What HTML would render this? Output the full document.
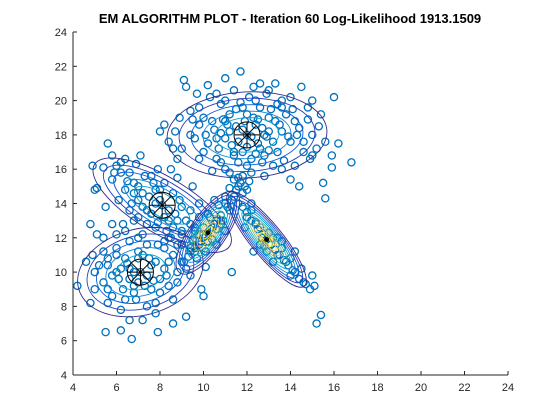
<!DOCTYPE html>
<html><head><meta charset="utf-8"><style>
html,body{margin:0;padding:0;background:#fff;}
svg{display:block;font-family:"Liberation Sans",sans-serif;}
</style></head><body>
<svg id="chart" width="560" height="420" viewBox="0 0 560 420" xmlns="http://www.w3.org/2000/svg">
<rect x="0" y="0" width="560" height="420" fill="#fff"/>
<text x="290" y="23" text-anchor="middle" font-size="13" font-weight="bold" fill="#000">EM ALGORITHM PLOT - Iteration 60 Log-Likelihood 1913.1509</text>
<g id="points"></g>
<g id="contours"></g>
<g id="markers"></g>
<g id="axes"></g>
</svg>
<script>
const xTicks=[4,6,8,10,12,14,16,18,20,22,24];
const yTicks=[4,6,8,10,12,14,16,18,20,22,24];
const ptsX=[12.0,11.5,12.5,13.0,11.0,12.3,11.8,13.5,10.5,12.8,11.2,14.0,10.2,12.6,11.6,13.8,10.8,14.4,9.8,12.1,13.2,11.0,14.6,10.0,12.9,11.4,13.6,9.6,15.0,10.6,12.2,14.2,15.2,9.4,13.4,11.9,12.7,11.3,12.4,13.1,10.9,14.8,10.3,11.7,12.0,13.9,11.1,12.9,10.7,13.3,14.1,15.3,15.6,15.9,15.5,15.6,16.0,16.8,15.4,9.1,9.2,11.7,12.6,13.3,14.5,15.0,10.2,9.7,8.9,8.7,9.0,9.8,10.4,11.6,12.8,14.0,14.4,15.9,16.2,8.2,8.0,8.4,8.6,8.8,11.0,14.9,12.3,13.7,10.1,9.5,11.8,12.5,13.0,11.4,14.3,12.2,10.8,13.6,11.5,12.7,
11.2,11.6,12.4,12.8,13.2,11.0,12.0,12.2,13.6,10.6,11.4,12.6,13.0,10.4,14.2,11.8,12.4,13.4,10.8,14.6,10.0,9.8,14.8,12.0,13.6,11.2,15.0,9.4,10.6,13.0,14.0,11.0,
8.1,7.5,8.7,7.0,9.2,6.5,9.6,7.8,8.4,7.2,8.9,6.8,9.4,6.2,10.0,7.6,8.6,6.0,5.8,7.3,9.0,8.2,7.0,10.4,6.4,5.4,5.1,5.0,5.6,6.9,7.9,8.8,9.8,10.2,6.6,7.4,8.3,8.0,7.7,6.1,5.5,7.1,9.5,10.8,8.5,6.3,5.8,4.9,
7.8,8.4,7.2,8.8,6.8,9.0,7.4,8.0,6.6,7.6,9.4,6.4,8.2,7.0,5.9,6.2,9.8,8.6,7.9,6.7,8.5,9.0,8.8,9.4,8.2,
7.1,6.5,7.7,6.8,7.5,6.0,8.2,7.0,6.3,8.0,5.6,8.6,6.6,7.9,5.4,8.8,6.9,7.4,6.0,9.0,5.2,8.4,7.2,5.8,9.4,6.4,4.9,5.0,8.6,9.6,7.8,6.2,5.4,4.6,4.2,5.6,5.5,6.2,6.7,7.9,9.2,9.9,10.1,9.8,5.1,4.8,7.3,6.6,7.6,7.0,6.1,8.3,5.8,10.0,4.8,6.8,7.2,8.6,
6.8,7.4,7.0,6.4,7.8,6.2,7.2,8.0,6.6,7.6,5.8,8.4,6.0,7.4,6.8,8.8,5.6,7.0,8.2,5.6,6.4,8.4,9.2,5.0,6.0,7.8,9.0,5.4,6.6,7.8,
10.2,9.9,10.5,9.6,10.8,9.3,11.1,10.0,10.4,9.8,10.6,11.3,9.1,10.9,9.5,11.0,11.5,11.7,11.4,11.8,11.2,10.7,11.9,12.1,11.6,10.3,9.7,10.1,9.0,11.0,11.3,10.5,
10.0,10.4,9.8,10.6,10.2,9.4,10.8,11.2,11.4,11.0,11.6,9.6,10.6,11.8,12.0,
12.9,12.5,13.3,12.2,13.7,12.0,14.1,12.7,13.1,13.0,12.8,14.4,11.8,13.5,12.4,13.9,14.7,14.9,15.1,14.5,13.2,12.6,13.4,14.0,11.9,15.4,15.2,15.0,12.3,13.6,14.2,12.2,
12.8,13.0,12.6,13.4,12.4,13.8,12.0,14.2,13.2,12.9,14.6,12.2,13.6,14.0];
const ptsY=[18.0,18.5,17.5,18.2,17.8,19.0,17.0,18.6,18.3,16.8,19.2,17.6,17.5,19.6,16.4,19.2,19.8,18.4,18.6,20.2,16.2,16.0,17.0,19.0,20.4,20.6,20.0,17.8,18.0,16.6,15.8,16.2,17.2,19.4,17.0,18.8,18.4,17.4,16.9,19.5,18.9,18.9,20.2,19.9,17.3,17.9,18.6,17.9,17.2,18.8,19.5,18.5,17.6,16.1,15.2,14.3,20.2,16.4,19.2,21.2,20.8,21.7,21.0,21.0,20.8,20.0,20.9,20.4,19.0,18.2,17.2,16.6,15.9,15.5,15.6,15.4,15.0,16.8,17.5,18.6,18.2,17.6,17.2,16.6,21.3,16.6,20.8,16.5,18.0,18.9,18.3,18.9,17.1,17.0,18.0,17.9,18.1,19.6,19.5,16.4,
18.2,17.6,18.6,18.0,17.6,18.8,19.2,16.6,18.2,17.8,16.8,17.2,19.0,18.8,18.8,19.6,20.0,19.8,16.4,17.6,17.0,19.6,19.6,16.2,16.0,15.8,16.8,18.0,20.4,20.6,20.2,20.0,
13.9,14.4,13.4,15.0,13.0,15.3,12.6,14.8,13.0,13.8,14.2,14.6,13.6,15.8,12.2,13.4,14.6,16.2,15.4,15.6,12.4,15.2,13.2,12.6,16.6,16.1,14.9,14.8,17.5,16.3,16.0,15.5,14.0,13.4,13.6,12.8,12.4,14.2,15.2,14.2,13.8,16.8,15.0,13.0,16.0,12.8,16.8,16.2,
14.0,13.6,14.6,13.0,15.2,13.8,13.6,14.8,15.8,15.6,12.8,14.8,13.2,14.2,15.8,16.4,13.2,12.6,12.9,14.0,12.0,12.2,11.6,11.4,11.8,
10.0,10.5,9.5,9.2,10.8,10.0,10.2,11.2,9.0,8.8,10.8,11.0,11.8,11.6,9.4,9.4,8.4,8.0,11.4,10.6,10.4,12.0,12.2,8.6,9.8,12.4,11.0,9.0,8.4,11.2,7.6,7.8,12.0,10.6,9.2,8.2,6.5,6.6,6.1,6.5,7.4,9.0,10.3,11.8,12.2,8.2,9.2,10.2,10.4,10.8,9.6,9.8,12.8,8.6,12.8,13.0,7.2,7.0,
10.0,9.8,9.4,10.8,10.6,10.2,11.0,9.6,9.6,9.0,9.8,10.6,11.0,11.6,8.8,10.0,10.4,12.0,11.4,9.0,8.4,9.2,10.2,10.0,12.2,12.6,11.6,11.2,7.2,8.2,
12.3,11.8,12.8,11.4,13.3,10.9,13.8,12.6,11.9,12.2,12.5,14.2,10.6,13.0,11.9,14.4,14.8,15.2,15.4,14.6,14.9,13.9,15.0,15.3,14.0,13.2,10.8,11.2,11.6,12.4,10.0,14.2,
12.0,12.6,11.6,13.0,11.8,11.2,12.8,13.6,14.4,14.0,15.0,12.4,11.6,15.6,14.8,
11.9,12.5,11.3,13.0,10.7,13.5,10.1,12.0,11.6,12.3,11.5,9.6,13.8,11.0,12.9,10.4,9.3,9.0,9.2,10.2,10.6,11.6,12.0,9.8,12.6,7.5,7.0,9.8,11.2,11.8,11.2,14.0,
12.2,11.6,12.6,11.0,12.8,10.6,13.2,10.0,12.0,11.2,9.4,13.6,11.4,10.8];
const meanX=[12.0,8.1,7.1,10.2,12.9];
const meanY=[18.0,13.9,10.0,12.3,11.9];
const peak=[0,0,0,1,1];

const X0=73,X1=508,Y0=375,Y1=32;
const sx=v=>X0+(v-4)*(X1-X0)/20;
const sy=v=>Y0-(v-4)*(Y0-Y1)/20;
const NS="http://www.w3.org/2000/svg";
function mk(t,a,p){const e=document.createElementNS(NS,t);for(const k in a)e.setAttribute(k,a[k]);p.appendChild(e);return e;}

const gp=document.getElementById('points');
for(let i=0;i<ptsX.length;i++){
 const c=mk('circle',{cx:sx(ptsX[i]),cy:sy(ptsY[i]),r:3.6,fill:'none',stroke:'#0072BD','stroke-width':1.3},gp);
 
 
}
const shapeA=[80,79,64,49,60],shapeB=[43,28,43,18,16],shapeR=[-3,31,-15,-55,51];
const cols=['#352a87','#2c3fb8','#0f5cdd','#1481d6','#06a4ca','#2eb7a4','#87bf77','#d1bb59','#fec832','#f9fb0e'];
const gc=document.getElementById('contours');
for(let k=0;k<meanX.length;k++){
 const n=peak[k]?10:5;
 for(let j=0;j<n;j++){
  const s=peak[k]?(1-j*0.095):(1-j*0.15);
  const e=mk('ellipse',{cx:0,cy:0,rx:shapeA[k]*s,ry:shapeB[k]*s,fill:'none',stroke:cols[j],'stroke-width':0.9,transform:`translate(${sx(meanX[k])},${sy(meanY[k])}) rotate(${shapeR[k]})`},gc);
  
  
 }
}
const gm=document.getElementById('markers');
for(let k=0;k<meanX.length;k++){
 const cx=sx(meanX[k]),cy=sy(meanY[k]);const R=peak[k]?2:13;
 const g=mk('g',{stroke:'#000','stroke-width':1,fill:'none'},gm);
 
 
 mk('circle',{cx,cy,r:R},g);
 const d=R*0.95,dd=d*0.7;
 mk('path',{d:`M${cx-d},${cy}H${cx+d}M${cx},${cy-d}V${cy+d}M${cx-dd},${cy-dd}L${cx+dd},${cy+dd}M${cx-dd},${cy+dd}L${cx+dd},${cy-dd}`},g);
}
const ga=document.getElementById('axes');
mk('line',{x1:X0,y1:Y0,x2:X1,y2:Y0,stroke:'#262626','stroke-width':1},ga);
mk('line',{x1:X0,y1:Y0,x2:X0,y2:Y1,stroke:'#262626','stroke-width':1},ga);
xTicks.forEach(v=>{
 mk('line',{x1:sx(v),y1:Y0,x2:sx(v),y2:Y0-4,stroke:'#262626'},ga);
 const t=mk('text',{x:sx(v),y:Y0+16,'text-anchor':'middle','font-size':11,fill:'#262626'},ga);t.textContent=v;
 
 
});
yTicks.forEach(v=>{
 mk('line',{x1:X0,y1:sy(v),x2:X0+4,y2:sy(v),stroke:'#262626'},ga);
 const t=mk('text',{x:X0-6,y:sy(v)+4,'text-anchor':'end','font-size':11,fill:'#262626'},ga);t.textContent=v;
 
 
});
</script>
</body></html>
